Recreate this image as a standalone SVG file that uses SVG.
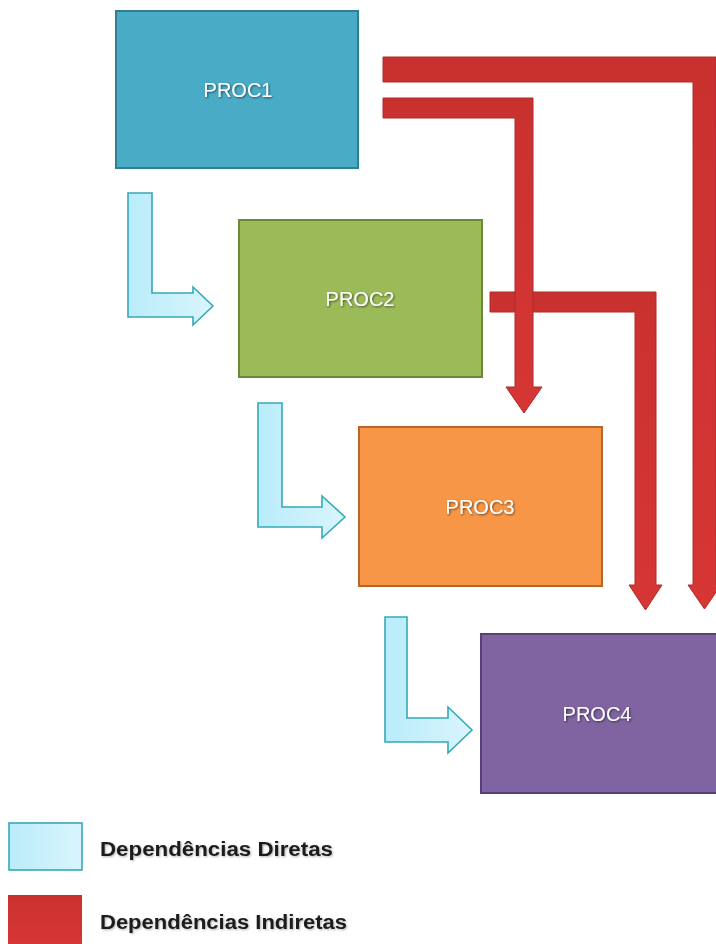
<svg xmlns="http://www.w3.org/2000/svg" width="716" height="944" viewBox="0 0 716 944">
  <style>
    .label { font-family: "Liberation Sans", Arial, sans-serif; font-size: 20px; fill: #ffffff; text-anchor: middle; filter: url(#txtShadow); }
    .legend { font-family: "Liberation Sans", Arial, sans-serif; font-size: 20px; font-weight: bold; fill: #1c1c1c; filter: url(#legShadow); }
    .direct { fill: url(#lightBlue); stroke: #36a9b8; stroke-width: 1.6; stroke-linejoin: miter; }
    .indirect { fill: url(#redFill); stroke: #b02a28; stroke-width: 1; }
  </style>
  <defs>
    <linearGradient id="lightBlue" x1="0" y1="0" x2="1" y2="0">
      <stop offset="0" stop-color="#b9ecfa"/>
      <stop offset="1" stop-color="#d9f5fc"/>
    </linearGradient>
    <linearGradient id="redFill" x1="0" y1="0" x2="0" y2="1">
      <stop offset="0" stop-color="#c9312f"/>
      <stop offset="1" stop-color="#d63634"/>
    </linearGradient>
    <filter id="txtShadow" x="-20%" y="-40%" width="140%" height="180%">
      <feDropShadow dx="1" dy="1" stdDeviation="0.8" flood-color="#000000" flood-opacity="0.55"/>
    </filter>
    <filter id="legShadow" x="-10%" y="-40%" width="120%" height="180%">
      <feDropShadow dx="1" dy="1" stdDeviation="0.8" flood-color="#000000" flood-opacity="0.3"/>
    </filter>
  </defs>

  <rect width="716" height="944" fill="#ffffff"/>

  <!-- process boxes -->
  <g id="proc1">
    <rect x="116" y="11" width="242" height="157" fill="#4aabc6" stroke="#2f7f93" stroke-width="2"/>
    <text class="label" x="238" y="97">PROC1</text>
  </g>
  <g id="proc2">
    <rect x="239" y="220" width="243" height="157" fill="#9bbb59" stroke="#6b8a38" stroke-width="2"/>
    <text class="label" x="360" y="306">PROC2</text>
  </g>
  <g id="proc3">
    <rect x="359" y="427" width="243" height="159" fill="#f79646" stroke="#b8652a" stroke-width="2"/>
    <text class="label" x="480" y="514">PROC3</text>
  </g>
  <g id="proc4">
    <rect x="481" y="634" width="240" height="159" fill="#8064a2" stroke="#584076" stroke-width="2"/>
    <text class="label" x="597" y="721">PROC4</text>
  </g>

  <!-- dependency connectors -->
  <g id="connectors">
    <!-- direct dependencies -->
    <polygon class="direct" points="128,193 152,193 152,293 193,293 193,287 213,306 193,325 193,317 128,317"/>
    <polygon class="direct" points="258,403 282,403 282,507 322,507 322,496 345,517 322,538 322,527 258,527"/>
    <polygon class="direct" points="385,617 407,617 407,718 448,718 448,707 472,730 448,753 448,742 385,742"/>
    <!-- indirect dependencies -->
    <polygon class="indirect" points="383,57 716,57 716,585 721,585 704.5,609 688,585 693,585 693,82 383,82"/>
    <polygon class="indirect" points="490,292 656,292 656,585 662,585 645.5,610 629,585 635,585 635,312 490,312"/>
    <polygon class="indirect" points="383,98 533,98 533,387 542,387 524,413 506,387 515,387 515,118 383,118"/>
  </g>

  <!-- legend -->
  <g id="legend-direct">
    <rect x="9" y="823" width="73" height="47" fill="url(#lightBlue)" stroke="#36a9b8" stroke-width="1.6"/>
    <text class="legend" x="100" y="856" textLength="233" lengthAdjust="spacingAndGlyphs">Dependências Diretas</text>
  </g>
  <g id="legend-indirect">
    <rect x="8" y="895" width="74" height="49" fill="url(#redFill)"/>
    <text class="legend" x="100" y="929" textLength="247" lengthAdjust="spacingAndGlyphs">Dependências Indiretas</text>
  </g>
</svg>
